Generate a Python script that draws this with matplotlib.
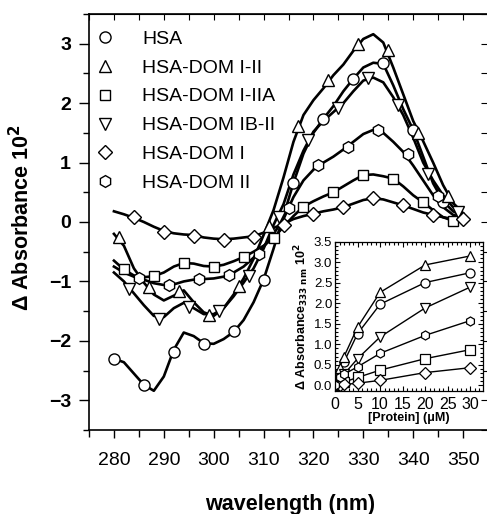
import matplotlib
matplotlib.use("Agg")
import matplotlib.pyplot as plt
import numpy as np

plt.rcParams['font.family'] = ['Liberation Sans', 'DejaVu Sans']

# ---------------- main spectra (dense curve readings, every 2 nm) -------------
wl = [280, 282, 284, 286, 288, 290, 292, 294, 296, 298, 300, 302, 304, 306, 308,
      310, 312, 314, 316, 318, 320, 322, 324, 326, 328, 330, 332, 334, 336, 338,
      340, 342, 344, 346, 348, 350]

hsa = [-2.30, -2.36, -2.55, -2.74, -2.84, -2.60, -2.15, -1.86, -1.92, -2.04, -2.05,
       -1.97, -1.85, -1.65, -1.35, -0.97, -0.45, 0.10, 0.66, 1.15, 1.50, 1.74, 1.95,
       2.20, 2.41, 2.60, 2.68, 2.66, 2.30, 1.90, 1.55, 1.10, 0.65, 0.35, 0.18, 0.10]
dom_i_ii = [-0.20, -0.40, -0.78, -1.02, -1.22, -1.32, -1.24, -1.15, -1.35, -1.52,
            -1.58, -1.45, -1.22, -0.95, -0.62, -0.22, 0.20, 0.75, 1.35, 1.80, 2.05,
            2.25, 2.47, 2.65, 2.88, 3.08, 3.16, 3.02, 2.60, 2.15, 1.70, 1.36, 1.00,
            0.62, 0.32, 0.15]
dom_i_iia = [-0.65, -0.80, -0.90, -0.93, -0.91, -0.85, -0.75, -0.69, -0.70, -0.74,
             -0.75, -0.72, -0.66, -0.59, -0.50, -0.40, -0.27, -0.08, 0.10, 0.26,
             0.35, 0.43, 0.50, 0.60, 0.70, 0.79, 0.80, 0.77, 0.73, 0.60, 0.45,
             0.33, 0.20, 0.08, 0.02, 0.03]
dom_ib_ii = [-0.85, -1.00, -1.20, -1.40, -1.58, -1.60, -1.45, -1.36, -1.45, -1.55,
             -1.55, -1.45, -1.25, -1.02, -0.78, -0.45, -0.05, 0.30, 0.80, 1.20,
             1.52, 1.70, 1.85, 2.00, 2.20, 2.38, 2.43, 2.35, 2.10, 1.80, 1.42,
             1.00, 0.70, 0.45, 0.25, 0.12]
dom_i = [0.18, 0.13, 0.07, 0.00, -0.08, -0.15, -0.19, -0.21, -0.22, -0.26, -0.28,
         -0.29, -0.28, -0.26, -0.24, -0.18, -0.10, -0.03, 0.05, 0.10, 0.14, 0.18,
         0.21, 0.25, 0.31, 0.37, 0.40, 0.38, 0.33, 0.28, 0.22, 0.16, 0.12, 0.08,
         0.05, 0.05]
dom_ii = [-0.75, -0.85, -0.92, -0.97, -1.03, -1.06, -1.05, -1.00, -0.97, -0.96,
          -0.95, -0.92, -0.85, -0.75, -0.60, -0.42, -0.20, 0.05, 0.42, 0.70, 0.88,
          1.00, 1.10, 1.22, 1.35, 1.48, 1.55, 1.50, 1.35, 1.18, 0.95, 0.70, 0.45,
          0.25, 0.12, 0.08]

# marker readings (wavelength, value)
hsa_mx = [280, 286, 292, 298, 304, 310, 316, 322, 328, 334, 340, 346]
hsa_my = [-2.31, -2.75, -2.19, -2.06, -1.84, -0.98, 0.66, 1.74, 2.41, 2.67, 1.55, 0.33]
i_ii_mx = [281, 287, 293, 299, 305, 311, 317, 323, 329, 335, 341, 347]
i_ii_my = [-0.25, -1.09, -1.16, -1.56, -1.07, -0.06, 1.61, 2.39, 3.00, 2.90, 1.50, 0.43]
i_iia_mx = [282, 288, 294, 300, 306, 312, 318, 324, 330, 336, 342, 348]
i_iia_my = [-0.79, -0.91, -0.69, -0.75, -0.59, -0.27, 0.26, 0.50, 0.79, 0.73, 0.33, 0.02]
ib_ii_mx = [283, 289, 295, 301, 307, 313, 319, 325, 331, 337, 343, 349]
ib_ii_my = [-1.13, -1.63, -1.43, -1.50, -0.91, 0.08, 1.38, 1.91, 2.42, 1.97, 0.81, 0.16]
i_mx = [284, 290, 296, 302, 308, 314, 320, 326, 332, 338, 344, 350]
i_my = [0.08, -0.16, -0.23, -0.30, -0.25, -0.05, 0.13, 0.25, 0.40, 0.29, 0.12, 0.05]
ii_mx = [285, 291, 297, 303, 309, 315, 321, 327, 333, 339, 345]
ii_my = [-0.95, -1.06, -0.96, -0.89, -0.54, 0.23, 0.96, 1.27, 1.55, 1.14, 0.43]

labels = ['HSA', 'HSA-DOM I-II', 'HSA-DOM I-IIA', 'HSA-DOM IB-II', 'HSA-DOM I', 'HSA-DOM II']
markers = ['o', '^', 's', 'v', 'D', 'h']
msizes = [8, 8, 7.5, 8, 7, 8.5]

# ---------------- inset: titration at 333 nm ----------------
conc = [0, 1, 2, 5, 10, 20, 30]
t_hsa = [0.00, 0.30, 0.57, 1.26, 1.98, 2.51, 2.75]
t_i_ii = [0.00, 0.43, 0.70, 1.42, 2.27, 2.94, 3.16]
t_i_iia = [0.00, 0.03, 0.08, 0.19, 0.37, 0.65, 0.87]
t_ib_ii = [0.00, 0.10, 0.27, 0.65, 1.18, 1.89, 2.40]
t_i = [0.00, 0.00, 0.02, 0.05, 0.12, 0.31, 0.43]
t_ii = [0.00, 0.19, 0.27, 0.45, 0.78, 1.22, 1.58]

W, H = 487, 514
fig = plt.figure(figsize=(W / 100, H / 100), dpi=100)
ax = fig.add_axes([89 / W, 1 - 430 / H, 399 / W, 416 / H])

curves = [hsa, dom_i_ii, dom_i_iia, dom_ib_ii, dom_i, dom_ii]
mxs = [hsa_mx, i_ii_mx, i_iia_mx, ib_ii_mx, i_mx, ii_mx]
mys = [hsa_my, i_ii_my, i_iia_my, ib_ii_my, i_my, ii_my]
for c, mx, my, m, ms, lab in zip(curves, mxs, mys, markers, msizes, labels):
    ax.plot(wl, c, color='black', lw=1.9, zorder=2, solid_joinstyle='round')
    ax.plot(mx, my, linestyle='none', marker=m, ms=ms, mfc='white', mec='black',
            mew=1.0, zorder=3)
    ax.plot([], [], linestyle='none', marker=m, ms=ms, mfc='white', mec='black',
            mew=1.0, label=lab)

ax.set_xlim(275.2, 355.0)
ax.set_ylim(-3.5, 3.5)
ax.set_xticks([280, 290, 300, 310, 320, 330, 340, 350])
ax.set_xticks(np.arange(275, 356, 5), minor=True)
ax.set_yticks([-3, -2, -1, 0, 1, 2, 3])
ax.set_yticks(np.arange(-3.5, 3.6, 0.5), minor=True)
ax.spines['right'].set_visible(False)
ax.tick_params(axis='both', which='both', width=1.0)
ax.tick_params(axis='x', which='major', direction='out', length=6, labelsize=14, pad=10)
ax.tick_params(axis='x', which='minor', direction='out', length=5)
ax.tick_params(axis='y', which='major', direction='out', length=7, labelsize=14, pad=6)
ax.tick_params(axis='y', which='minor', direction='out', length=4)
for t in ax.get_yticklabels():
    t.set_fontweight('bold')
for sp in ax.spines.values():
    sp.set_linewidth(1.2)

# top/right ticks drawn inward via secondary axes
sec_x = ax.secondary_xaxis('top')
sec_x.set_xticks(np.arange(275, 356, 5))
sec_x.tick_params(direction='in', length=4)
sec_x.set_xticklabels([])
sec_y = ax.secondary_yaxis('right')
sec_y.set_yticks(np.arange(-3.5, 3.6, 0.5))
sec_y.tick_params(direction='in', length=5)
sec_y.set_yticklabels([])

fig.text(290 / W, 4 / H, 'wavelength (nm)', fontsize=15.5, fontweight='bold',
         ha='center', va='baseline')
fig.text(22 / W, 1 - 218 / H, 'Δ Absorbance 10$^\\mathbf{2}$', fontsize=15.5,
         fontweight='bold', ha='center', va='center', rotation=90)

leg = ax.legend(loc='upper left', frameon=False, fontsize=14, handletextpad=1.4,
                labelspacing=0.58, borderaxespad=0.0, handlelength=1.0,
                bbox_to_anchor=(-0.003, 0.98))

# ---------------- inset ----------------
ins = fig.add_axes([335 / W, 1 - 391 / H, 148 / W, 149 / H])
tit = [t_hsa, t_i_ii, t_i_iia, t_ib_ii, t_i, t_ii]
for t, m in zip(tit, markers):
    ins.plot(conc, t, color='black', lw=1.0, marker=m, ms=6.5, mfc='white',
             mec='black', mew=0.9)
ins.set_xlim(0, 32.8)
ins.set_ylim(-0.14, 3.5)
ins.set_xticks([0, 5, 10, 15, 20, 25, 30])
ins.set_xticks(np.arange(0, 33, 1), minor=True)
ins.set_yticks(np.arange(0, 3.51, 0.5))
ins.set_yticks(np.arange(0, 3.51, 0.1), minor=True)
ins.yaxis.set_major_formatter(matplotlib.ticker.FormatStrFormatter('%.1f'))
ins.tick_params(which='both', direction='in', top=True, right=True, width=0.8)
ins.tick_params(which='major', length=3.5)
ins.tick_params(which='minor', length=2)
ins.tick_params(axis='x', labelsize=11.5, pad=4)
ins.tick_params(axis='y', labelsize=9.5, pad=2)
for sp in ins.spines.values():
    sp.set_linewidth(0.9)
ins.set_xlabel('[Protein] (μM)', fontsize=9, fontweight='bold', labelpad=0)
ins.set_ylabel('Δ Absorbance$_{\\mathbf{333\\ nm}}$ 10$^\\mathbf{2}$', fontsize=9,
               fontweight='bold', labelpad=2)

fig.savefig('out.png', dpi=100)
